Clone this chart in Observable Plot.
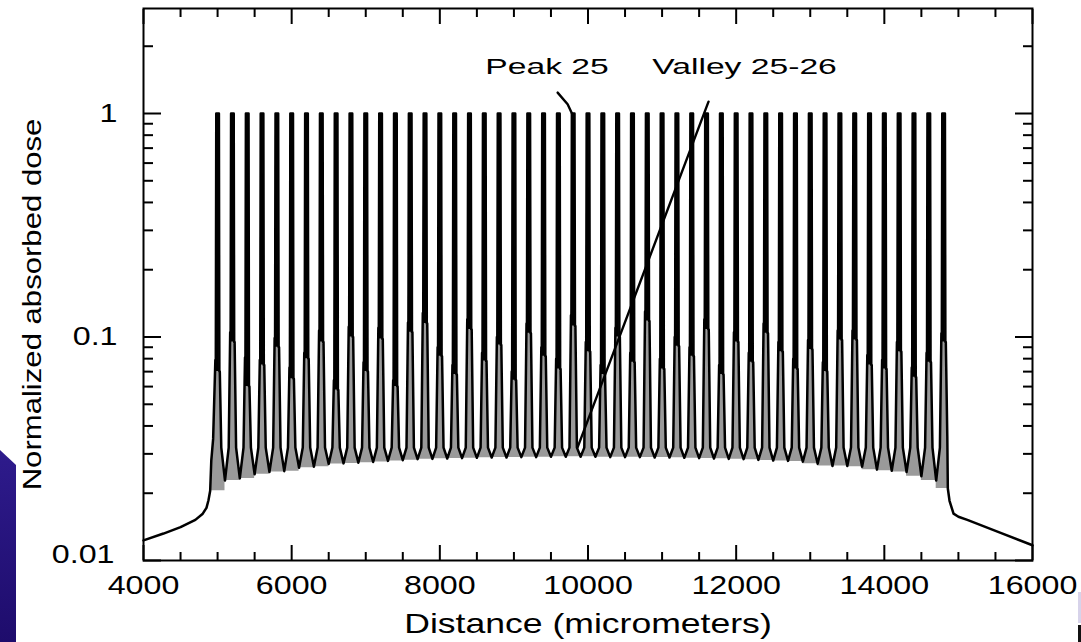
<!DOCTYPE html>
<html>
<head>
<meta charset="utf-8">
<script src="https://cdn.jsdelivr.net/npm/d3@7"></script>
<script src="https://cdn.jsdelivr.net/npm/@observablehq/plot@0.6"></script>
<style>
  html, body { margin: 0; padding: 0; background: #fff; }
  #wrap { position: relative; width: 1081px; height: 642px; overflow: hidden; background: #fff; }
  #chart svg { display: block; }
  .deco { position: absolute; }
  #blueL { left: 0; top: 450px; width: 16px; height: 192px;
           background: linear-gradient(#2e1b8c, #1e0c6c);
           clip-path: polygon(0 0, 100% 15px, 100% 100%, 0 100%); }
  #lavR { left: 1078px; top: 592px; width: 3px; height: 31px; background: #d7d3ea; }
  #blackR { left: 1078px; top: 625px; width: 3px; height: 17px; background: #111; }
</style>
</head>
<body>
<div id="wrap">
  <div id="chart"></div>
  <div class="deco" id="blueL"></div>
  <div class="deco" id="lavR"></div>
  <div class="deco" id="blackR"></div>
</div>
<script>
// ---------------- data ----------------
const xDomain = [4000, 16000];
const yDomain = [0.01, 2.95];

// centres of the 50 microbeam peaks (micrometers)
const peakX = [5000,5200,5400,5600,5800,6000,6200,6400,6600,6800,
               7000,7200,7400,7600,7800,8000,8200,8400,8600,8800,
               9000,9200,9400,9600,9800,10000,10200,10400,10600,10800,
               11000,11200,11400,11600,11800,12000,12200,12400,12600,12800,
               13000,13200,13400,13600,13800,14000,14200,14400,14600,14800];
// peak heights (normalized)
const peakTop = [1,1,1,1,1,1,1,1,1,1, 1,1,1,1,1,1,1,1,1,1, 1,1,1,1,1,1,1,1,1,1,
                 1,1,1,1,1,1,1,1,1,1, 1,1,1,1,1,1,1,1,1,1];
// level where the solid black spike meets the hollow grey base (left / right flank)
const shoulderL = [0.079,0.105,0.081,0.079,0.099,0.073,0.085,0.107,0.064,0.111,
                   0.077,0.110,0.064,0.116,0.128,0.090,0.075,0.120,0.085,0.100,
                   0.070,0.115,0.090,0.080,0.125,0.095,0.075,0.110,0.085,0.130,
                   0.080,0.100,0.090,0.120,0.075,0.105,0.085,0.115,0.095,0.080,
                   0.097,0.077,0.107,0.107,0.083,0.079,0.095,0.073,0.085,0.104];
const shoulderR = [0.070,0.095,0.060,0.075,0.090,0.065,0.080,0.095,0.058,0.100,
                   0.070,0.098,0.060,0.105,0.115,0.082,0.068,0.108,0.078,0.092,
                   0.064,0.104,0.082,0.072,0.112,0.086,0.068,0.100,0.077,0.118,
                   0.072,0.091,0.082,0.108,0.068,0.095,0.077,0.104,0.086,0.072,
                   0.088,0.070,0.097,0.097,0.075,0.072,0.086,0.066,0.077,0.095];
// valley minima between consecutive peaks (49 valleys)
const valleyMin = [0.0228,0.0233,0.0243,0.0249,0.0251,0.0260,0.0263,0.0270,0.0272,0.0274,
                   0.0276,0.0279,0.0281,0.0284,0.0285,0.0286,0.0287,0.0288,0.0289,0.0289,
                   0.0290,0.0290,0.0291,0.0291,0.0291,0.0291,0.0290,0.0290,0.0290,0.0289,
                   0.0289,0.0288,0.0287,0.0286,0.0285,0.0284,0.0282,0.0280,0.0279,0.0277,
                   0.0271,0.0265,0.0265,0.0263,0.0255,0.0252,0.0249,0.0238,0.0228];
// level where the flanks open into the valley bottom
const wallMid = 0.032;
// half-widths of the peak profile (micrometers from the peak centre)
const spikeTopHalf = 18, spikeWallHalf = 24, shoulderHalf = 30, wallMidHalf = 50;
// dose outside the array
const tailLeftX = [4000,4270,4500,4700,4800,4850,4877,4900,4915,4940];
const tailLeftY = [0.0123,0.0132,0.0141,0.0152,0.0162,0.0172,0.0186,0.0205,0.028,0.035];
const tailRightX = [14850,14857,14880,14934,15000,15120,15570,16000];
const tailRightY = [0.036,0.021,0.0185,0.0162,0.0157,0.0152,0.0133,0.0117];

// axis ticks and labels
const xMajorTicks = [4000,6000,8000,10000,12000,14000,16000];
const xMinorTicks = [4500,5000,5500,6500,7000,7500,8500,9000,9500,10500,11000,11500,12500,13000,13500,14500,15000,15500];
const yMajorTicks = [0.01,0.1,1];
const yMinorTicks = [0.02,0.03,0.04,0.05,0.06,0.07,0.08,0.09,0.2,0.3,0.4,0.5,0.6,0.7,0.8,0.9,2];
const xTitle = "Distance (micrometers)";
const yTitle = "Normalized absorbed dose";

// annotations
const annotationLabels = ["Peak 25", "Valley 25-26"];
const annotationX = [9447, 12113];
const annotationY = [1.62, 1.62];
const leaderPeakX = [9590, 9725, 9790];
const leaderPeakY = [1.24, 1.10, 0.99];
const leaderValleyX = [11627, 9858];
const leaderValleyY = [1.13, 0.032];

// ---------------- build the curve ----------------
const profile = tailLeftX.map((x, i) => ({x, y: tailLeftY[i]}));
const greyAreas = [];
const spikeAreas = [];
peakX.forEach((p, i) => {
  const first = i === 0, last = i === peakX.length - 1;
  const sL = shoulderL[i], sR = shoulderR[i], top = peakTop[i];
  const pts = [];
  if (!first) pts.push([p - wallMidHalf, wallMid]);
  pts.push([p - shoulderHalf, sL], [p - spikeWallHalf, sL],
           [p - spikeTopHalf, top], [p + spikeTopHalf, top],
           [p + spikeWallHalf, sR], [p + shoulderHalf, sR]);
  if (!last) {
    pts.push([p + wallMidHalf, wallMid]);
    pts.push([(p + peakX[i + 1]) / 2, valleyMin[i]]);
  }
  pts.forEach(([x, y]) => profile.push({x, y}));

  // solid black spike above the shoulders
  const sBase = Math.min(sL, sR);
  [[p - spikeWallHalf, sL], [p - spikeTopHalf, top], [p + spikeTopHalf, top], [p + spikeWallHalf, sR]]
    .forEach(([x, y]) => spikeAreas.push({x, y1: sBase, y2: y, peak: i}));

  // grey inside the hollow base of each peak
  const g = [];
  if (first) tailLeftX.forEach((x, k) => { if (x >= 4900) g.push([x, tailLeftY[k]]); });
  else g.push([(peakX[i - 1] + p) / 2, valleyMin[i - 1]], [p - wallMidHalf, wallMid]);
  g.push([p - shoulderHalf, sL], [p + shoulderHalf, sR]);
  if (last) tailRightX.forEach((x, k) => { if (tailRightY[k] >= 0.021) g.push([x, tailRightY[k]]); });
  else g.push([p + wallMidHalf, wallMid], [(p + peakX[i + 1]) / 2, valleyMin[i]]);
  const base = d3.min(g, d => d[1]);
  g.forEach(([x, y]) => greyAreas.push({x, y1: base, y2: y, peak: i}));
});
tailRightX.forEach((x, i) => profile.push({x, y: tailRightY[i]}));

const annotations = annotationLabels.map((label, i) => ({label, x: annotationX[i], y: annotationY[i]}));
const leaders = [
  ...leaderPeakX.map((x, i) => ({x, y: leaderPeakY[i], id: "peak"})),
  ...leaderValleyX.map((x, i) => ({x, y: leaderValleyY[i], id: "valley"}))
];

const ink = "#000";
const font = "'Liberation Sans', Arial, Helvetica, sans-serif";

const chart = Plot.plot({
  width: 1081,
  height: 642,
  marginLeft: 143,
  marginRight: 49,
  marginTop: 8,
  marginBottom: 82,
  style: {fontFamily: font, background: "#fff", color: ink},
  x: {domain: xDomain, label: null},
  y: {type: "log", domain: yDomain, label: null},
  marks: [
    Plot.areaY(greyAreas, {x: "x", y1: "y1", y2: "y2", z: "peak", fill: "#9a9a9a"}),
    Plot.areaY(spikeAreas, {x: "x", y1: "y1", y2: "y2", z: "peak", fill: ink}),
    Plot.line(profile, {x: "x", y: "y", stroke: ink, strokeWidth: 2.5}),
    Plot.line(leaders, {x: "x", y: "y", z: "id", stroke: ink, strokeWidth: 2.4}),
    Plot.frame({stroke: ink, strokeWidth: 2}),
    // ticks (inward)
    Plot.axisX({anchor: "bottom", ticks: xMinorTicks, tickSize: -8, strokeWidth: 2, tickFormat: () => "", label: null}),
    Plot.axisX({anchor: "bottom", ticks: xMajorTicks, tickSize: -15, strokeWidth: 2, tickFormat: () => "", label: null}),
    Plot.axisX({anchor: "top", ticks: xMinorTicks, tickSize: -8, strokeWidth: 2, tickFormat: () => "", label: null}),
    Plot.axisX({anchor: "top", ticks: xMajorTicks, tickSize: -15, strokeWidth: 2, tickFormat: () => "", label: null}),
    Plot.axisY({anchor: "left", ticks: yMinorTicks, tickSize: -10, strokeWidth: 2, tickFormat: () => "", label: null}),
    Plot.axisY({anchor: "left", ticks: yMajorTicks, tickSize: -18, strokeWidth: 2, tickFormat: () => "", label: null}),
    Plot.axisY({anchor: "right", ticks: yMinorTicks, tickSize: -10, strokeWidth: 2, tickFormat: () => "", label: null}),
    Plot.axisY({anchor: "right", ticks: yMajorTicks, tickSize: -18, strokeWidth: 2, tickFormat: () => "", label: null}),
    // tick labels
    Plot.axisX({anchor: "bottom", ticks: xMajorTicks, tickSize: 0, tickPadding: 15, fontSize: 26, fill: ink, tickFormat: d => String(d), label: null}),
    Plot.axisY({anchor: "left", ticks: yMajorTicks.filter(d => d > 0.01), tickSize: 0, tickPadding: 26, fontSize: 26, fill: ink, tickFormat: d => String(d), label: null}),
    Plot.axisY({anchor: "left", ticks: yMajorTicks.filter(d => d === 0.01), tickSize: 0, tickPadding: 29, dy: -6, fontSize: 26, fill: ink, tickFormat: d => String(d), label: null}),
    // titles
    Plot.text([xTitle], {text: d => d, frameAnchor: "bottom", dy: 64, fontSize: 28, fill: ink, textAnchor: "middle", lineAnchor: "middle"}),
    Plot.text([yTitle], {text: d => d, frameAnchor: "left", dx: -111, dy: 20, rotate: -90, fontSize: 25.5, fill: ink, textAnchor: "middle", lineAnchor: "middle"}),
    // annotations
    Plot.text(annotations, {x: "x", y: "y", text: "label", fontSize: 22, fill: ink, textAnchor: "middle", lineAnchor: "middle"})
  ]
});

// widen glyphs horizontally (the reference text is stretched)
const stretch = {"26": 1.24, "25.5": 1.22, "28": 1.27, "22": 1.53};
chart.querySelectorAll("text").forEach(t => {
  const holder = t.closest("[font-size]");
  if (!holder) return;
  const s = stretch[String(parseFloat(holder.getAttribute("font-size")))];
  if (!s) return;
  const tr = t.getAttribute("transform") || "";
  const x = +t.getAttribute("x") || 0, y = +t.getAttribute("y") || 0;
  t.setAttribute("transform", `${tr} translate(${x},${y}) scale(${s},1) translate(${-x},${-y})`);
});

document.getElementById("chart").appendChild(chart);
</script>
</body>
</html>
